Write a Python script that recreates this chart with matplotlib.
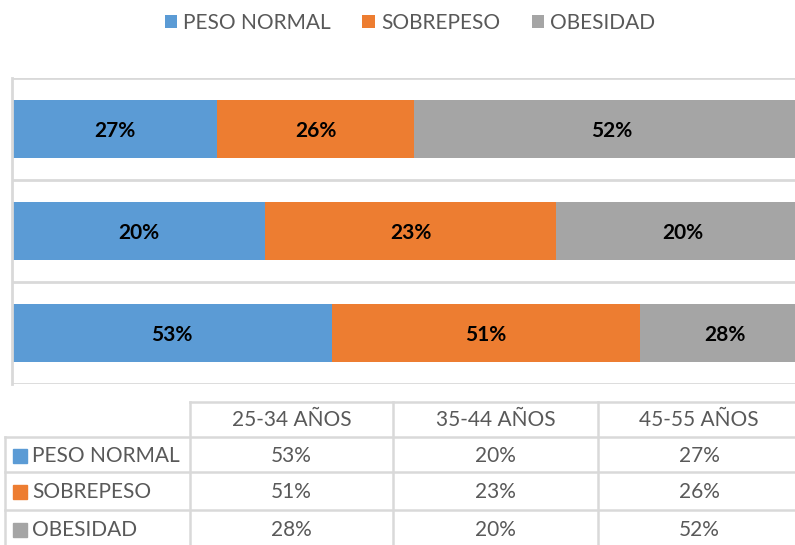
import matplotlib
matplotlib.use("Agg")
import matplotlib.pyplot as plt
from matplotlib.patches import Rectangle
import numpy as np

plt.rcParams['font.family'] = ['Lato', 'DejaVu Sans']

groups = ["25-34 AÑOS", "35-44 AÑOS", "45-55 AÑOS"]
series_names = ["PESO NORMAL", "SOBREPESO", "OBESIDAD"]
peso_normal = [53, 20, 27]
sobrepeso = [51, 23, 26]
obesidad = [28, 20, 52]
colors = ["#5B9BD5", "#ED7D31", "#A5A5A5"]

W, H = 795, 545
fig = plt.figure(figsize=(W / 100, H / 100), dpi=100)

grid_c = "#D9D9D9"
text_c = "#595959"

# ---- bar chart ----
left, right, top, bottom = 12, 809, 78, 384
ax = fig.add_axes([left / W, 1 - bottom / H, (right - left) / W, (bottom - top) / H])
vals = np.array([peso_normal, sobrepeso, obesidad], dtype=float)
totals = vals.sum(axis=0)
shares = vals / totals
ypos = np.arange(len(groups))
cum = np.zeros(len(groups))
for i, name in enumerate(series_names):
    ax.barh(ypos, shares[i], left=cum, height=0.56, color=colors[i], label=name, zorder=2)
    for j in range(len(groups)):
        ax.text(cum[j] + shares[i][j] / 2, ypos[j] - 0.02, f"{int(vals[i][j])}%",
                ha="center", va="center", fontsize=15, fontweight="bold", color="black", zorder=3)
    cum += shares[i]
ax.set_xlim(0, 1)
ax.set_ylim(-0.5, len(groups) - 0.5)
for b in np.arange(-0.5, len(groups), 1.0):
    ax.axhline(b, color=grid_c, lw=2, zorder=1)
ax.set_xticks([])
ax.set_yticks([])
for s in ["right", "top", "bottom"]:
    ax.spines[s].set_visible(False)
ax.spines["left"].set_color(grid_c)
ax.spines["left"].set_linewidth(2)

# legend
handles, labels = ax.get_legend_handles_labels()
fig.legend(handles, labels, loc="center", bbox_to_anchor=(410 / W, 1 - 23 / H), ncol=3,
           frameon=False, fontsize=15, handlelength=0.6, handleheight=0.6,
           handletextpad=0.3, columnspacing=1.5, labelcolor=text_c)

# ---- data table ----
tax = fig.add_axes([0, 0, 1, 1])
tax.set_xlim(0, W)
tax.set_ylim(H, 0)
tax.axis("off")
col_x = [5, 190, 393, 598, 800]
row_y = [402, 437, 472, 510, 548]
lw = 1.8
tax.plot([col_x[1], col_x[-1]], [row_y[0], row_y[0]], color=grid_c, lw=lw)
for y in row_y[1:]:
    tax.plot([col_x[0], col_x[-1]], [y, y], color=grid_c, lw=lw)
tax.plot([col_x[0], col_x[0]], [row_y[1], row_y[-1]], color=grid_c, lw=lw)
for x in col_x[1:-1]:
    tax.plot([x, x], [row_y[0], row_y[-1]], color=grid_c, lw=lw)

for c, g in enumerate(groups):
    tax.text((col_x[c + 1] + col_x[c + 2]) / 2, (row_y[0] + row_y[1]) / 2 + 1, g,
             ha="center", va="center", fontsize=15, color=text_c)
for r, name in enumerate(series_names):
    yc = (row_y[r + 1] + row_y[r + 2]) / 2 + 1
    tax.add_patch(Rectangle((13, yc - 7), 14, 14, color=colors[r]))
    tax.text(32, yc, name, ha="left", va="center", fontsize=15, color=text_c)
    for c in range(len(groups)):
        tax.text((col_x[c + 1] + col_x[c + 2]) / 2, yc, f"{int(vals[r][c])}%",
                 ha="center", va="center", fontsize=15, color=text_c)

fig.savefig("out.png", dpi=100)
